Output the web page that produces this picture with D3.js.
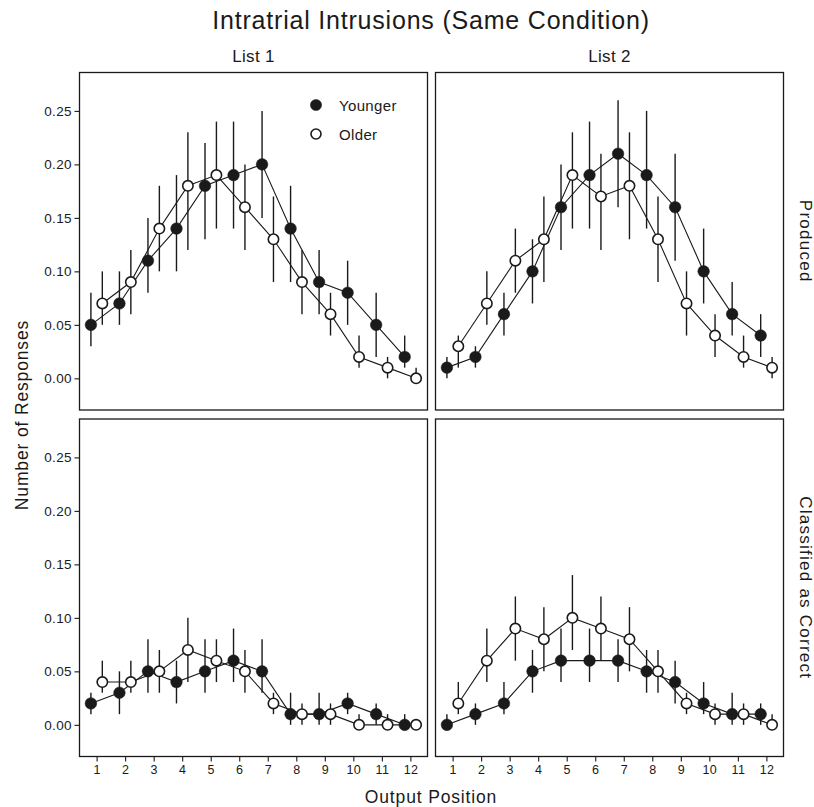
<!DOCTYPE html>
<html>
<head>
<meta charset="utf-8">
<script src="https://cdn.jsdelivr.net/npm/d3@7"></script>
<style>
  body { margin: 0; background: #fff; }
  text { font-family: "Liberation Sans", Arial, Helvetica, sans-serif; fill: #1a1a1a; }
</style>
</head>
<body>
<script>
// output positions 1..12
var positions = [1, 2, 3, 4, 5, 6, 7, 8, 9, 10, 11, 12];
var lists = ["List 1", "List 2"];
var rows = ["Produced", "Classified as Correct"];
var groups = ["Younger", "Older"];
var yTicks = [0, 0.05, 0.1, 0.15, 0.2, 0.25];

// List 1, Produced
var y_l1_prod = [0.05, 0.07, 0.11, 0.14, 0.18, 0.19, 0.20, 0.14, 0.09, 0.08, 0.05, 0.02];
var y_l1_prod_lo = [0.03, 0.05, 0.08, 0.10, 0.13, 0.14, 0.15, 0.09, 0.06, 0.05, 0.02, 0.01];
var y_l1_prod_hi = [0.08, 0.10, 0.15, 0.19, 0.22, 0.24, 0.25, 0.18, 0.12, 0.11, 0.08, 0.04];
var o_l1_prod = [0.07, 0.09, 0.14, 0.18, 0.19, 0.16, 0.13, 0.09, 0.06, 0.02, 0.01, 0.00];
var o_l1_prod_lo = [0.05, 0.06, 0.10, 0.12, 0.14, 0.12, 0.09, 0.06, 0.04, 0.01, 0.00, 0.00];
var o_l1_prod_hi = [0.10, 0.12, 0.18, 0.23, 0.24, 0.20, 0.17, 0.12, 0.08, 0.04, 0.02, 0.01];

// List 2, Produced
var y_l2_prod = [0.01, 0.02, 0.06, 0.10, 0.16, 0.19, 0.21, 0.19, 0.16, 0.10, 0.06, 0.04];
var y_l2_prod_lo = [0.00, 0.01, 0.04, 0.07, 0.12, 0.14, 0.16, 0.14, 0.11, 0.07, 0.04, 0.02];
var y_l2_prod_hi = [0.02, 0.03, 0.08, 0.13, 0.20, 0.24, 0.26, 0.25, 0.21, 0.14, 0.09, 0.06];
var o_l2_prod = [0.03, 0.07, 0.11, 0.13, 0.19, 0.17, 0.18, 0.13, 0.07, 0.04, 0.02, 0.01];
var o_l2_prod_lo = [0.01, 0.05, 0.08, 0.09, 0.14, 0.12, 0.13, 0.09, 0.04, 0.02, 0.01, 0.00];
var o_l2_prod_hi = [0.04, 0.10, 0.14, 0.17, 0.23, 0.21, 0.23, 0.17, 0.10, 0.06, 0.04, 0.02];

// List 1, Classified as Correct
var y_l1_corr = [0.02, 0.03, 0.05, 0.04, 0.05, 0.06, 0.05, 0.01, 0.01, 0.02, 0.01, 0.00];
var y_l1_corr_lo = [0.01, 0.01, 0.03, 0.02, 0.03, 0.04, 0.03, 0.00, 0.00, 0.01, 0.00, 0.00];
var y_l1_corr_hi = [0.03, 0.05, 0.08, 0.06, 0.08, 0.09, 0.08, 0.03, 0.03, 0.03, 0.02, 0.01];
var o_l1_corr = [0.04, 0.04, 0.05, 0.07, 0.06, 0.05, 0.02, 0.01, 0.01, 0.00, 0.00, 0.00];
var o_l1_corr_lo = [0.03, 0.03, 0.03, 0.04, 0.04, 0.03, 0.01, 0.00, 0.00, 0.00, 0.00, 0.00];
var o_l1_corr_hi = [0.06, 0.06, 0.07, 0.10, 0.08, 0.07, 0.03, 0.02, 0.02, 0.01, 0.01, 0.00];

// List 2, Classified as Correct
var y_l2_corr = [0.00, 0.01, 0.02, 0.05, 0.06, 0.06, 0.06, 0.05, 0.04, 0.02, 0.01, 0.01];
var y_l2_corr_lo = [0.00, 0.00, 0.01, 0.03, 0.04, 0.04, 0.04, 0.03, 0.02, 0.01, 0.00, 0.00];
var y_l2_corr_hi = [0.01, 0.02, 0.04, 0.07, 0.09, 0.09, 0.08, 0.07, 0.06, 0.04, 0.03, 0.02];
var o_l2_corr = [0.02, 0.06, 0.09, 0.08, 0.10, 0.09, 0.08, 0.05, 0.02, 0.01, 0.01, 0.00];
var o_l2_corr_lo = [0.01, 0.04, 0.06, 0.05, 0.07, 0.06, 0.05, 0.03, 0.01, 0.00, 0.00, 0.00];
var o_l2_corr_hi = [0.04, 0.09, 0.12, 0.11, 0.14, 0.12, 0.11, 0.07, 0.03, 0.02, 0.02, 0.01];

var panels = [
  { col: 0, row: 0, series: [[y_l1_prod, y_l1_prod_lo, y_l1_prod_hi], [o_l1_prod, o_l1_prod_lo, o_l1_prod_hi]] },
  { col: 1, row: 0, series: [[y_l2_prod, y_l2_prod_lo, y_l2_prod_hi], [o_l2_prod, o_l2_prod_lo, o_l2_prod_hi]] },
  { col: 0, row: 1, series: [[y_l1_corr, y_l1_corr_lo, y_l1_corr_hi], [o_l1_corr, o_l1_corr_lo, o_l1_corr_hi]] },
  { col: 1, row: 1, series: [[y_l2_corr, y_l2_corr_lo, y_l2_corr_hi], [o_l2_corr, o_l2_corr_lo, o_l2_corr_hi]] }
];

var w = 814;
var h = 807;
var panelLeft = [79.5, 435.5];
var panelTop = [72.5, 419];
var pw = 348;
var ph = 337.5;
var dodge = [-0.2, 0.2];
var ink = "#1a1a1a";

var svg = d3.select("body").append("svg").attr("width", w).attr("height", h);

var xScale = d3.scaleLinear().domain([0.4, 12.6]).range([0, pw]);
var yScale = d3.scaleLinear().domain([-0.0296, 0.2859]).range([ph, 0]);

var line = d3.line()
  .x(function (d) { return xScale(d.x); })
  .y(function (d) { return yScale(d.y); });

panels.forEach(function (p) {
  var g = svg.append("g")
    .attr("transform", "translate(" + panelLeft[p.col] + "," + panelTop[p.row] + ")");

  // y axis only on left column
  if (p.col == 0) {
    var yAxis = d3.axisLeft(yScale).tickValues(yTicks).tickSize(5).tickPadding(2.5)
      .tickFormat(d3.format(".2f"));
    var ya = g.append("g").call(yAxis);
    ya.select(".domain").remove();
    ya.selectAll("line").attr("stroke", ink).attr("stroke-width", 1.1);
    ya.selectAll("text").attr("font-size", 13.5).attr("fill", ink)
      .attr("letter-spacing", 0.4)
      .attr("font-family", "Liberation Sans, Arial, sans-serif");
  }
  // x axis only on bottom row
  if (p.row == 1) {
    var xAxis = d3.axisBottom(xScale).tickValues(positions).tickSize(5).tickPadding(4);
    var xa = g.append("g").attr("transform", "translate(0," + ph + ")").call(xAxis);
    xa.select(".domain").remove();
    xa.selectAll("line").attr("stroke", ink).attr("stroke-width", 1.1);
    xa.selectAll("text").attr("font-size", 12.5).attr("fill", ink)
      .attr("letter-spacing", 0.3)
      .attr("font-family", "Liberation Sans, Arial, sans-serif");
  }

  p.series.forEach(function (s, gi) {
    var pts = positions.map(function (x, i) {
      return { x: x + dodge[gi], y: s[0][i], lo: s[1][i], hi: s[2][i] };
    });
    g.append("path")
      .datum(pts)
      .attr("d", line)
      .attr("fill", "none")
      .attr("stroke", ink)
      .attr("stroke-width", 1.1);
    g.selectAll(".err" + gi)
      .data(pts)
      .enter()
      .append("line")
      .attr("x1", function (d) { return xScale(d.x); })
      .attr("x2", function (d) { return xScale(d.x); })
      .attr("y1", function (d) { return yScale(d.lo); })
      .attr("y2", function (d) { return yScale(d.hi); })
      .attr("stroke", ink)
      .attr("stroke-width", 1.4);
  });

  p.series.forEach(function (s, gi) {
    var pts = positions.map(function (x, i) {
      return { x: x + dodge[gi], y: s[0][i] };
    });
    g.selectAll(".pt" + gi)
      .data(pts)
      .enter()
      .append("circle")
      .attr("cx", function (d) { return xScale(d.x); })
      .attr("cy", function (d) { return yScale(d.y); })
      .attr("r", gi == 0 ? 5.8 : 5.2)
      .attr("fill", gi == 0 ? ink : "#fff")
      .attr("stroke", ink)
      .attr("stroke-width", gi == 0 ? 0.5 : 1.6);
  });

  // panel border
  g.append("rect")
    .attr("width", pw)
    .attr("height", ph)
    .attr("fill", "none")
    .attr("stroke", ink)
    .attr("stroke-width", 1.3);
});

// legend in top-left panel
var leg = svg.append("g");
groups.forEach(function (name, i) {
  leg.append("circle")
    .attr("cx", 316)
    .attr("cy", 105 + i * 29)
    .attr("r", i == 0 ? 5.6 : 5)
    .attr("fill", i == 0 ? ink : "#fff")
    .attr("stroke", ink)
    .attr("stroke-width", i == 0 ? 0.5 : 1.6);
  leg.append("text")
    .attr("x", 339)
    .attr("y", 110.5 + i * 29.5)
    .attr("font-size", 15)
    .attr("letter-spacing", 0.35)
    .text(name);
});

// title and strip labels
svg.append("text")
  .attr("x", 431)
  .attr("y", 29)
  .attr("text-anchor", "middle")
  .attr("font-size", 25)
  .attr("letter-spacing", 0.8)
  .text("Intratrial Intrusions (Same Condition)");

lists.forEach(function (t, i) {
  svg.append("text")
    .attr("x", panelLeft[i] + pw / 2)
    .attr("y", 62)
    .attr("text-anchor", "middle")
    .attr("font-size", 17)
    .attr("letter-spacing", 0.3)
    .text(t);
});

rows.forEach(function (t, i) {
  svg.append("text")
    .attr("transform", "translate(800," + (panelTop[i] + ph / 2) + ") rotate(90)")
    .attr("text-anchor", "middle")
    .attr("font-size", 17)
    .attr("letter-spacing", 1.25)
    .text(t);
});

svg.append("text")
  .attr("transform", "translate(28,415) rotate(-90)")
  .attr("text-anchor", "middle")
  .attr("font-size", 17.5)
  .attr("letter-spacing", 0.85)
  .text("Number of Responses");

svg.append("text")
  .attr("x", 431)
  .attr("y", 803)
  .attr("text-anchor", "middle")
  .attr("font-size", 17.5)
  .attr("letter-spacing", 0.85)
  .text("Output Position");
</script>
</body>
</html>
